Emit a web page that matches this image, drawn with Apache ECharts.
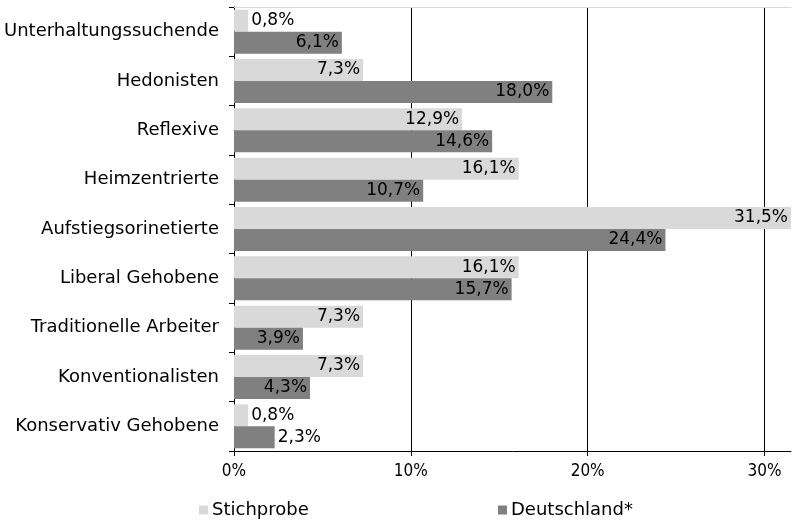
<!DOCTYPE html>
<html>
<head>
<meta charset="utf-8">
<script src="https://cdn.jsdelivr.net/npm/echarts@6/dist/echarts.min.js"></script>
<style>
  html, body { margin: 0; padding: 0; background: #fff; }
  #main { width: 795px; height: 520px; }
</style>
</head>
<body>
<div id="main"></div>
<script>
const categories = ['Unterhaltungssuchende', 'Hedonisten', 'Reflexive', 'Heimzentrierte',
  'Aufstiegsorinetierte', 'Liberal Gehobene', 'Traditionelle Arbeiter', 'Konventionalisten',
  'Konservativ Gehobene']
const stichprobe = [0.8, 7.3, 12.9, 16.1, 31.5, 16.1, 7.3, 7.3, 0.8]
const deutschland = [6.1, 18.0, 14.6, 10.7, 24.4, 15.7, 3.9, 4.3, 2.3]
const xTicks = [0, 10, 20, 30]

const FONT = 'DejaVu Sans'
const FONT_NARROW = 'DejaVu Sans Condensed'
const fmt = v => v.toFixed(1).replace('.', ',') + '%'

// small bars get their label outside, the rest inside at the end
const toData = arr => arr.map(v => ({
  value: v,
  label: { position: v < 3 ? 'right' : 'insideRight' }
}))

const barLabel = {
  show: true,
  color: '#000',
  fontFamily: FONT,
  fontSize: 17,
  distance: 3,
  formatter: p => fmt(p.value)
}

const legendText = { fontFamily: FONT, fontSize: 18, color: '#000', padding: [0, 0, 0, -1] }

const chart = echarts.init(document.getElementById('main'), null, { renderer: 'canvas' })
chart.setOption({
  animation: false,
  backgroundColor: '#fff',
  textStyle: { fontFamily: FONT },
  grid: { left: 234, right: 4, top: 7, bottom: 69, containLabel: false },
  legend: [
    {
      data: ['Stichprobe'], left: 194, top: 496,
      itemWidth: 9, itemHeight: 9, itemGap: 0, icon: 'rect',
      textStyle: legendText
    },
    {
      data: ['Deutschland*'], left: 493, top: 496,
      itemWidth: 9, itemHeight: 9, itemGap: 0, icon: 'rect',
      textStyle: legendText
    }
  ],
  xAxis: [
    {
      type: 'value', min: 0, max: 31.5, interval: 10,
      axisLine: { show: true, lineStyle: { color: '#000', width: 1 } },
      axisTick: { show: true, length: 5, customValues: xTicks, lineStyle: { color: '#000' } },
      axisLabel: {
        customValues: xTicks, margin: 12, color: '#000',
        fontFamily: FONT_NARROW, fontSize: 17, formatter: v => v + '%'
      },
      splitLine: { show: true, lineStyle: { color: '#000', width: 1 } }
    },
    {
      type: 'value', position: 'top', min: 0, max: 31.5,
      axisLine: { show: true, lineStyle: { color: '#d9d9d9', width: 1 } },
      axisTick: { show: false }, axisLabel: { show: false }, splitLine: { show: false }
    }
  ],
  yAxis: {
    type: 'category', data: categories, inverse: true,
    axisLine: { show: true, lineStyle: { color: '#000', width: 1 } },
    axisTick: { show: true, length: 5, lineStyle: { color: '#000' } },
    axisLabel: { margin: 15, color: '#000', fontFamily: FONT, fontSize: 18 }
  },
  series: [
    {
      name: 'Stichprobe', type: 'bar', data: toData(stichprobe),
      barWidth: 22, barGap: '0%',
      itemStyle: { color: '#d9d9d9' }, label: barLabel
    },
    {
      name: 'Deutschland*', type: 'bar', data: toData(deutschland),
      barWidth: 22, barGap: '0%',
      itemStyle: { color: '#808080' }, label: barLabel
    }
  ]
})
</script>
</body>
</html>
